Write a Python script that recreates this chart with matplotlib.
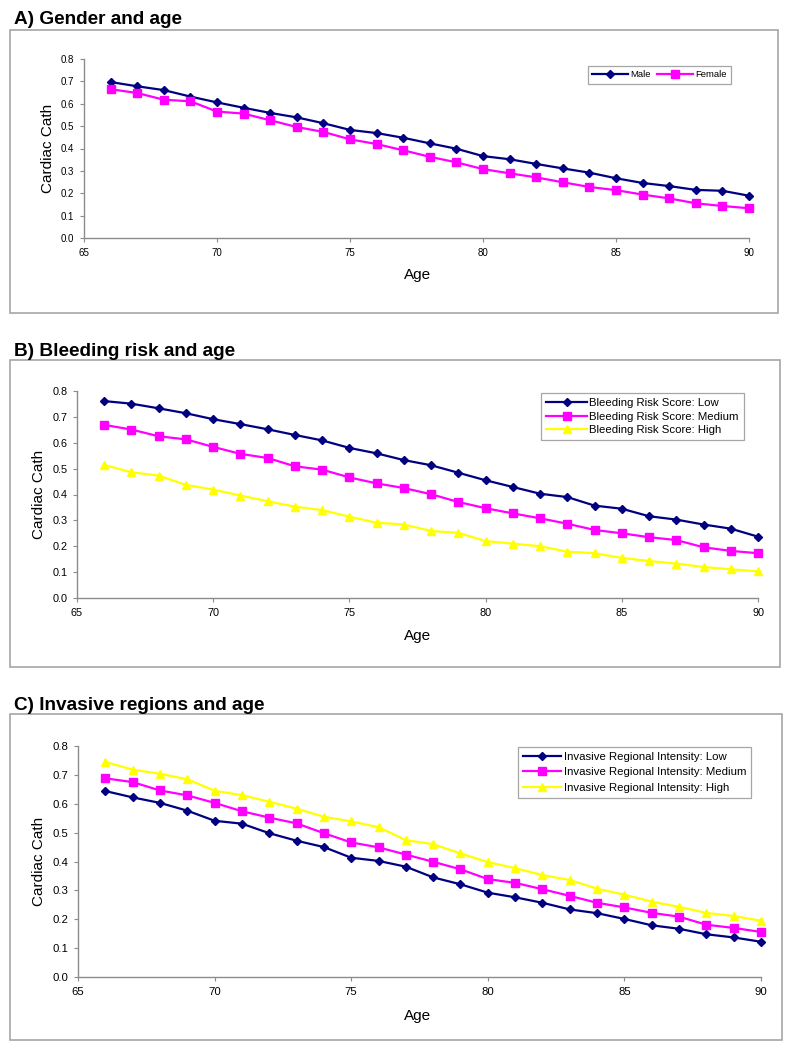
"""
Cardiac cath rate by age: three stratified panels.
"""

import matplotlib
matplotlib.use("Agg")
import matplotlib.pyplot as plt
from matplotlib.patches import Rectangle

plt.rcParams["font.family"] = ["Liberation Sans", "DejaVu Sans"]

W, H = 792, 1050

ages = list(range(66, 91))

# Panel A: gender
male = [0.697, 0.678, 0.661, 0.632, 0.606, 0.582, 0.559, 0.539, 0.513, 0.483, 0.469, 0.448, 0.423,
        0.399, 0.366, 0.352, 0.331, 0.311, 0.292, 0.267, 0.246, 0.232, 0.215, 0.211, 0.189]
female = [0.665, 0.648, 0.618, 0.611, 0.565, 0.556, 0.526, 0.496, 0.474, 0.441, 0.420, 0.392, 0.363,
          0.338, 0.308, 0.289, 0.271, 0.249, 0.228, 0.214, 0.194, 0.177, 0.155, 0.143, 0.133]

# Panel B: bleeding risk score
bleed_low = [0.761, 0.751, 0.733, 0.714, 0.691, 0.672, 0.652, 0.630, 0.609, 0.580, 0.559, 0.533, 0.513,
             0.484, 0.455, 0.429, 0.403, 0.390, 0.357, 0.345, 0.316, 0.303, 0.284, 0.268, 0.237]
bleed_med = [0.669, 0.651, 0.625, 0.613, 0.584, 0.557, 0.541, 0.509, 0.496, 0.466, 0.443, 0.425, 0.401,
             0.371, 0.347, 0.327, 0.308, 0.287, 0.263, 0.250, 0.235, 0.224, 0.196, 0.182, 0.173]
bleed_high = [0.514, 0.486, 0.473, 0.437, 0.419, 0.396, 0.374, 0.353, 0.340, 0.314, 0.291, 0.284, 0.259,
              0.252, 0.220, 0.210, 0.200, 0.179, 0.173, 0.155, 0.143, 0.133, 0.120, 0.111, 0.103]

# Panel C: invasive regional intensity
inv_low = [0.644, 0.622, 0.603, 0.576, 0.541, 0.531, 0.498, 0.472, 0.450, 0.413, 0.402, 0.382, 0.345,
           0.321, 0.292, 0.276, 0.257, 0.234, 0.221, 0.201, 0.179, 0.167, 0.148, 0.137, 0.122]
inv_med = [0.688, 0.675, 0.646, 0.629, 0.603, 0.574, 0.552, 0.532, 0.498, 0.466, 0.449, 0.424, 0.399,
           0.373, 0.339, 0.326, 0.304, 0.281, 0.257, 0.241, 0.222, 0.209, 0.181, 0.170, 0.156]
inv_high = [0.745, 0.718, 0.704, 0.685, 0.645, 0.630, 0.607, 0.583, 0.555, 0.539, 0.519, 0.474, 0.460,
            0.428, 0.398, 0.377, 0.353, 0.336, 0.306, 0.285, 0.261, 0.243, 0.222, 0.211, 0.195]

NAVY = "#000080"
MAGENTA = "#FF00FF"
YELLOW = "#FFFF00"
STYLES = [(NAVY, "D", 4.2), (MAGENTA, "s", 5.5), (YELLOW, "^", 5.5)]

panels = [
    dict(title="A) Gender and age", title_y=24, box=(10, 30, 778, 313),
         axes=(84, 59, 749, 238), series=[male, female], labels=["Male", "Female"],
         tick_fs=7, ylab_x=48, xlab_y=275, leg=(588, 66), leg_fs=6.8, ncol=2,
         hl=3.8, ls=0.2, bp=0.45),
    dict(title="B) Bleeding risk and age", title_y=356, box=(10, 360, 780, 667),
         axes=(77, 391, 758, 598), series=[bleed_low, bleed_med, bleed_high],
         labels=["Bleeding Risk Score: Low", "Bleeding Risk Score: Medium", "Bleeding Risk Score: High"],
         tick_fs=7.8, ylab_x=39, xlab_y=636, leg=(541, 393), leg_fs=8.2, ncol=1,
         hl=3.6, ls=0.3, bp=0.45),
    dict(title="C) Invasive regions and age", title_y=710, box=(10, 714, 782, 1040),
         axes=(78, 746, 761, 977), series=[inv_low, inv_med, inv_high],
         labels=["Invasive Regional Intensity: Low", "Invasive Regional Intensity: Medium",
                 "Invasive Regional Intensity: High"],
         tick_fs=8.2, ylab_x=39, xlab_y=1016, leg=(518, 747), leg_fs=8.2, ncol=1,
         hl=3.4, ls=0.5, bp=0.4),
]

fig = plt.figure(figsize=(W / 100, H / 100), dpi=100)

for p in panels:
    # outer chart-area frame
    x0, y0, x1, y1 = p["box"]
    fig.add_artist(Rectangle((x0 / W, 1 - y1 / H), (x1 - x0) / W, (y1 - y0) / H,
                             transform=fig.transFigure, fill=False, edgecolor="#a6a6a6", linewidth=1.2))
    fig.text(14 / W, 1 - p["title_y"] / H, p["title"], fontsize=13.7, fontweight="bold",
             ha="left", va="baseline")

    l, t, r, b = p["axes"]
    ax = fig.add_axes([l / W, 1 - b / H, (r - l) / W, (b - t) / H])
    for vals, lab, (col, mk, ms) in zip(p["series"], p["labels"], STYLES):
        ax.plot(ages, vals, color=col, marker=mk, markersize=ms, linewidth=1.6,
                markeredgecolor=col, label=lab, clip_on=False)

    ax.set_xlim(65, 90)
    ax.set_ylim(0, 0.8)
    ax.set_xticks(range(65, 91, 5))
    ax.set_yticks([i / 10 for i in range(9)])
    ax.set_yticklabels([f"{i / 10:.1f}" for i in range(9)])
    for s in ["top", "right"]:
        ax.spines[s].set_visible(False)
    for s in ["left", "bottom"]:
        ax.spines[s].set_color("#8c8c8c")
        ax.spines[s].set_linewidth(1.0)
    ax.tick_params(direction="out", length=3, width=0.8, color="#8c8c8c",
                   labelsize=p["tick_fs"], pad=4)

    ax.text(p["ylab_x"] / W, 1 - (t + b) / 2 / H, "Cardiac Cath", transform=fig.transFigure,
            rotation=90, ha="center", va="center", fontsize=11)
    ax.text(418 / W, 1 - p["xlab_y"] / H, "Age", transform=fig.transFigure,
            ha="center", va="center", fontsize=11)

    leg = ax.legend(loc="upper left", bbox_to_anchor=(p["leg"][0] / W, 1 - p["leg"][1] / H),
                    bbox_transform=fig.transFigure, ncol=p["ncol"], fontsize=p["leg_fs"],
                    fancybox=False, framealpha=1, edgecolor="#a6a6a6", handlelength=p["hl"],
                    handletextpad=0.2, borderpad=p["bp"], labelspacing=p["ls"], columnspacing=0.7,
                    borderaxespad=0)
    leg.get_frame().set_linewidth(0.9)

fig.savefig("out.png", dpi=100)
plt.close(fig)
